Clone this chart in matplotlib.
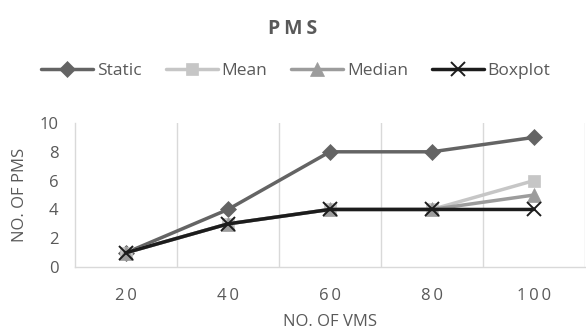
import matplotlib

matplotlib.use("Agg")
import matplotlib.pyplot as plt  # noqa: E402

vms = ["20", "40", "60", "80", "100"]
static = [1, 4, 8, 8, 9]
mean = [1, 3, 4, 4, 6]
median = [1, 3, 4, 4, 5]
boxplot = [1, 3, 4, 4, 4]
y_ticks = [0, 2, 4, 6, 8, 10]

plt.rcParams["font.family"] = ["Open Sans", "DejaVu Sans"]
text_col = "#595959"
grid_col = "#d9d9d9"


def spaced(s):
    return "\u2009".join(s)


fig = plt.figure(figsize=(5.86, 3.36), dpi=100)
ax = fig.add_axes([0.128, 0.205, 0.870, 0.429])

x = list(range(len(vms)))
series = [
    ("Static", static, "#646464", "D", 8.5),
    ("Mean", mean, "#c6c6c6", "s", 9),
    ("Median", median, "#9c9c9c", "^", 9.5),
    ("Boxplot", boxplot, "#1c1c1c", "x", 9.5),
]
for name, vals, col, mk, ms in series:
    ax.plot(x, vals, color=col, lw=2.5, marker=mk, markersize=ms,
            markeredgewidth=1.4 if mk == "x" else 0.5,
            markeredgecolor=col, markerfacecolor=col, label=name,
            solid_capstyle="round")

ax.set_xlim(-0.5, len(vms) - 0.5)
ax.set_ylim(0, 10)
ax.set_yticks(y_ticks)
ax.set_yticklabels([str(v) for v in y_ticks], color=text_col, fontsize=12)
ax.set_xticks(x)
ax.set_xticklabels([spaced(v) for v in vms], color=text_col, fontsize=12)
ax.tick_params(axis="y", length=0, pad=12)
ax.tick_params(axis="x", length=0, pad=15)

for b in [i + 0.5 for i in x]:
    ax.axvline(b, color=grid_col, lw=1, zorder=0)

for s in ["top", "right"]:
    ax.spines[s].set_visible(False)
for s in ["left", "bottom"]:
    ax.spines[s].set_color(grid_col)
    ax.spines[s].set_linewidth(1)

ax.set_xlabel("NO. OF VMS", color=text_col, fontsize=12)
ax.set_ylabel("NO. OF PMS", color=text_col, fontsize=12)
ax.yaxis.set_label_coords(-0.092, 0.5)
ax.xaxis.set_label_coords(0.5, -0.325)

fig.text(0.5, 0.915, spaced("PMS"), ha="center", va="center",
         fontsize=14, fontweight="bold", color=text_col)

leg = fig.legend(loc="center", bbox_to_anchor=(0.505, 0.79), ncol=4,
                 frameon=False, fontsize=12.5, handlelength=3.0,
                 columnspacing=1.4, handletextpad=0.2)
for t in leg.get_texts():
    t.set_color(text_col)

fig.savefig("out.png", dpi=100)
